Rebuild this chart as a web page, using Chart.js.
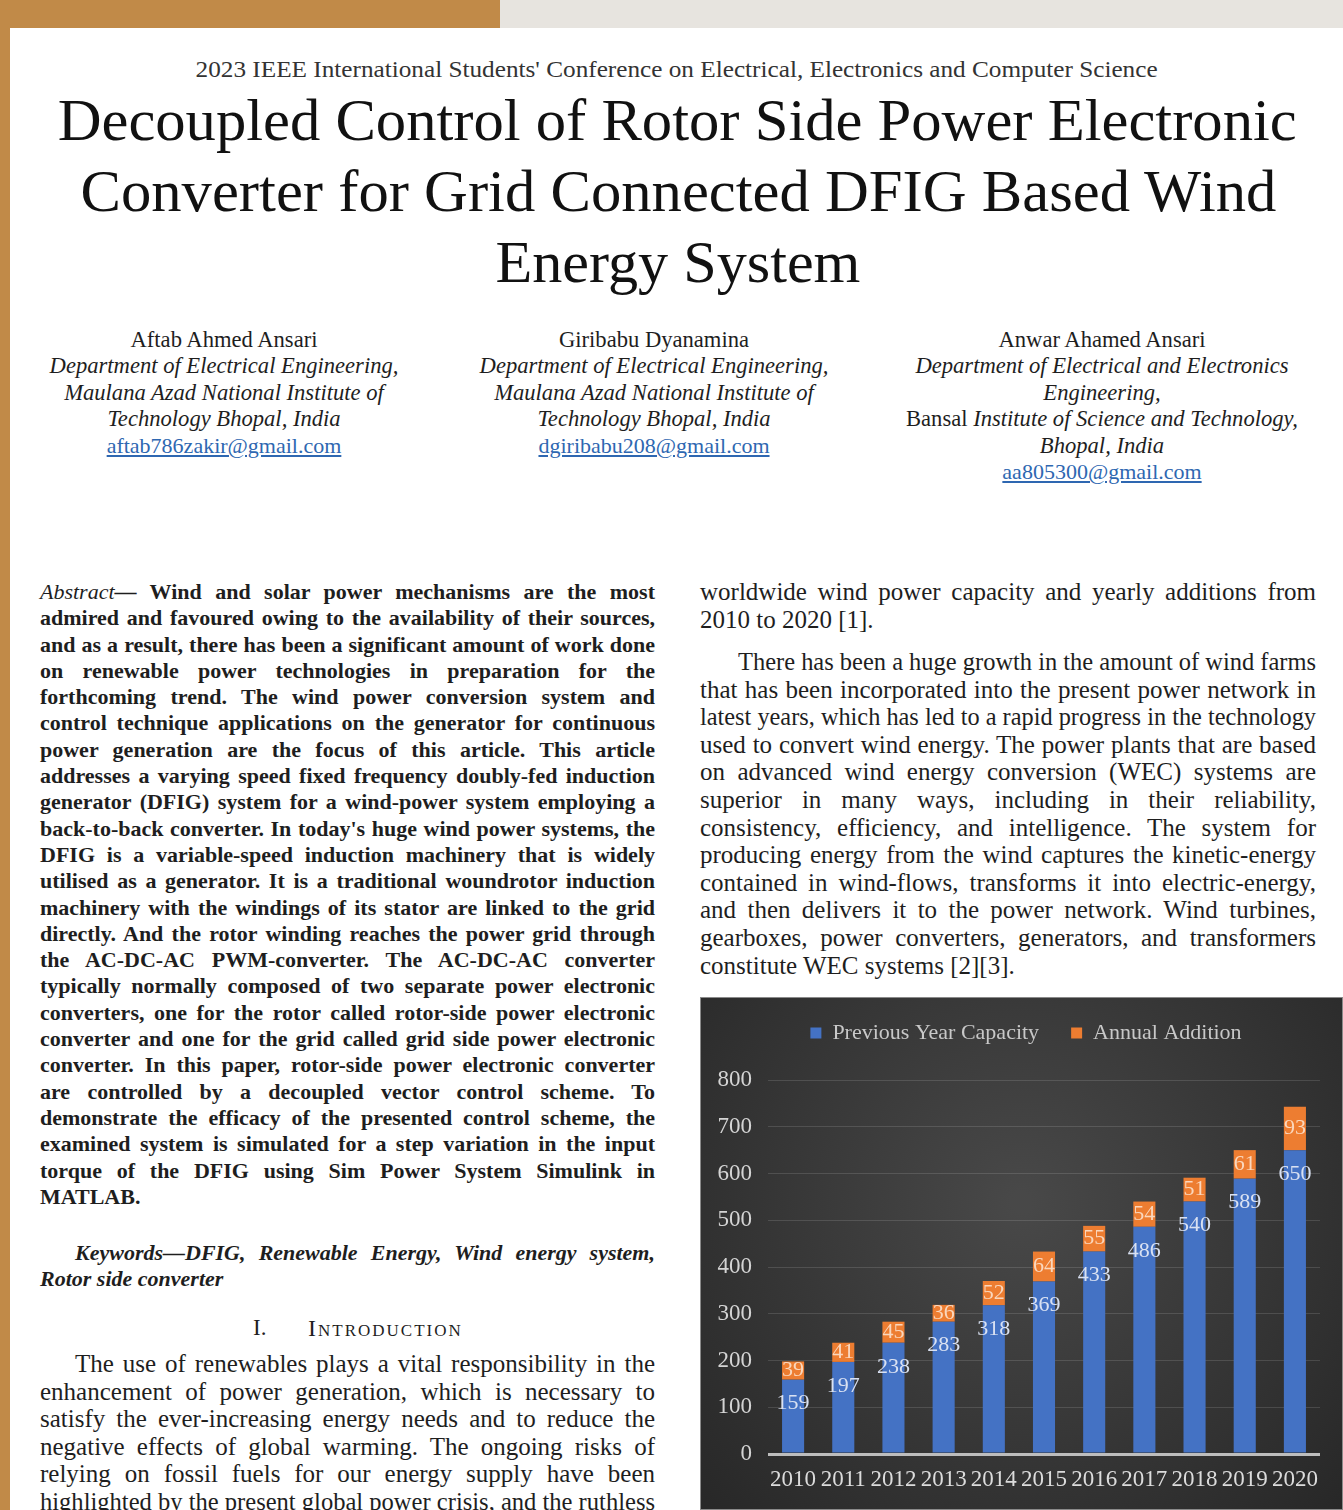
<!DOCTYPE html>
<html>
<head>
<meta charset="utf-8">
<title>Decoupled Control of Rotor Side Power Electronic Converter</title>
<script src="https://cdn.jsdelivr.net/npm/chart.js@4.4.0/dist/chart.umd.min.js"></script>
<style>
  html, body { margin: 0; padding: 0; }
  body {
    width: 1343px; height: 1510px; overflow: hidden; position: relative;
    background: #fff; font-family: "Liberation Serif", "Times New Roman", serif; color: #1e1e1e;
  }
  .strip-left { position: absolute; left: 0; top: 0; width: 10px; height: 1510px; background: #c18a48; }
  .strip-top1 { position: absolute; left: 0; top: 0; width: 500px; height: 28px; background: #c18a48; }
  .strip-top2 { position: absolute; left: 500px; top: 0; width: 843px; height: 28px; background: #e7e4df; }
  .ln { position: absolute; white-space: nowrap; }
  .j, .abs, .kw, .body25 { white-space: nowrap; }
  .c { text-align: center; }
  .conf { font-size: 23px; line-height: 30px; color: #333; }
  .title { font-size: 60px; line-height: 71px; color: #111; }
  .auth { font-size: 22.6px; line-height: 26.4px; }
  .mail { color: #2e67b1; text-decoration: underline; font-size: 22px; }
  .abs { font-size: 22px; line-height: 26.3px; font-weight: bold; }
  .kw { font-size: 22px; line-height: 26px; font-weight: bold; font-style: italic; }
  .body25 { font-size: 25px; line-height: 27.5px; }
  .rcol .body25 { line-height: 27.6px; }
  #chartBox { position: absolute; left: 700px; top: 997px; width: 643px; height: 513px; }
</style>
</head>
<body>
<div class="strip-left"></div>
<div class="strip-top1"></div>
<div class="strip-top2"></div>

<!-- header -->
<div class="ln c conf fit" data-w="962" style="left:0;width:1353px;top:55px"><span>2023 IEEE International Students' Conference on Electrical, Electronics and Computer Science</span></div>
<div class="ln c title fit" data-w="1239" style="left:0;width:1355px;top:85px"><span>Decoupled Control of Rotor Side Power Electronic</span></div>
<div class="ln c title fit" data-w="1196" style="left:0;width:1356px;top:156px"><span>Converter for Grid Connected DFIG Based Wind</span></div>
<div class="ln c title fit" data-w="365" style="left:0;width:1355px;top:227px"><span>Energy System</span></div>

<!-- authors -->
<div class="auth" style="position:absolute;left:4px;width:440px;top:327px;text-align:center">
  <div>Aftab Ahmed Ansari</div>
  <div><i>Department of Electrical Engineering,</i></div>
  <div><i>Maulana Azad National Institute of</i></div>
  <div><i>Technology Bhopal, India</i></div>
  <div class="mail">aftab786zakir@gmail.com</div>
</div>
<div class="auth" style="position:absolute;left:434px;width:440px;top:327px;text-align:center">
  <div>Giribabu Dyanamina</div>
  <div><i>Department of Electrical Engineering,</i></div>
  <div><i>Maulana Azad National Institute of</i></div>
  <div><i>Technology Bhopal, India</i></div>
  <div class="mail">dgiribabu208@gmail.com</div>
</div>
<div class="auth" style="position:absolute;left:872px;width:460px;top:327px;text-align:center">
  <div>Anwar Ahamed Ansari</div>
  <div><i>Department of Electrical and Electronics</i></div>
  <div><i>Engineering,</i></div>
  <div>Bansal <i>Institute of Science and Technology,</i></div>
  <div><i>Bhopal, India</i></div>
  <div class="mail">aa805300@gmail.com</div>
</div>

<!-- left column : abstract -->
<div style="position:absolute;left:40px;top:579px;width:615px">
  <div class="abs j"><span><i style="font-weight:normal">Abstract</i>— Wind and solar power mechanisms are the most</span></div>
  <div class="abs j"><span>admired and favoured owing to the availability of their sources,</span></div>
  <div class="abs j"><span>and as a result, there has been a significant amount of work done</span></div>
  <div class="abs j"><span>on renewable power technologies in preparation for the</span></div>
  <div class="abs j"><span>forthcoming trend. The wind power conversion system and</span></div>
  <div class="abs j"><span>control technique applications on the generator for continuous</span></div>
  <div class="abs j"><span>power generation are the focus of this article. This article</span></div>
  <div class="abs j"><span>addresses a varying speed fixed frequency doubly-fed induction</span></div>
  <div class="abs j"><span>generator (DFIG) system for a wind-power system employing a</span></div>
  <div class="abs j"><span>back-to-back converter. In today's huge wind power systems, the</span></div>
  <div class="abs j"><span>DFIG is a variable-speed induction machinery that is widely</span></div>
  <div class="abs j"><span>utilised as a generator. It is a traditional woundrotor induction</span></div>
  <div class="abs j"><span>machinery with the windings of its stator are linked to the grid</span></div>
  <div class="abs j"><span>directly. And the rotor winding reaches the power grid through</span></div>
  <div class="abs j"><span>the AC-DC-AC PWM-converter. The AC-DC-AC converter</span></div>
  <div class="abs j"><span>typically normally composed of two separate power electronic</span></div>
  <div class="abs j"><span>converters, one for the rotor called rotor-side power electronic</span></div>
  <div class="abs j"><span>converter and one for the grid called grid side power electronic</span></div>
  <div class="abs j"><span>converter. In this paper, rotor-side power electronic converter</span></div>
  <div class="abs j"><span>are controlled by a decoupled vector control scheme. To</span></div>
  <div class="abs j"><span>demonstrate the efficacy of the presented control scheme, the</span></div>
  <div class="abs j"><span>examined system is simulated for a step variation in the input</span></div>
  <div class="abs j"><span>torque of the DFIG using Sim Power System Simulink in</span></div>
  <div class="abs"><span>MATLAB.</span></div>
</div>

<div style="position:absolute;left:40px;top:1240px;width:615px">
  <div class="kw j" style="margin-left:35px"><span>Keywords—DFIG, Renewable Energy, Wind energy system,</span></div>
  <div class="kw"><span>Rotor side converter</span></div>
</div>

<div class="ln" style="left:253px;top:1315px;font-size:23px;line-height:26px">I.</div>
<div class="ln" style="left:308px;top:1315px;font-size:24px;line-height:26px;letter-spacing:2px;font-variant:small-caps">Introduction</div>

<div style="position:absolute;left:40px;top:1350px;width:615px">
  <div class="body25 j" style="margin-left:35px"><span>The use of renewables plays a vital responsibility in the</span></div>
  <div class="body25 j"><span>enhancement of power generation, which is necessary to</span></div>
  <div class="body25 j"><span>satisfy the ever-increasing energy needs and to reduce the</span></div>
  <div class="body25 j"><span>negative effects of global warming. The ongoing risks of</span></div>
  <div class="body25 j"><span>relying on fossil fuels for our energy supply have been</span></div>
  <div class="body25 j"><span>highlighted by the present global power crisis, and the ruthless</span></div>
</div>

<!-- right column -->
<div class="rcol" style="position:absolute;left:700px;top:578px;width:616px">
  <div class="body25 j"><span>worldwide wind power capacity and yearly additions from</span></div>
  <div class="body25"><span>2010 to 2020 [1].</span></div>
</div>
<div class="rcol" style="position:absolute;left:700px;top:648px;width:616px">
  <div class="body25 j" style="margin-left:38px"><span>There has been a huge growth in the amount of wind farms</span></div>
  <div class="body25 j"><span>that has been incorporated into the present power network in</span></div>
  <div class="body25 j"><span>latest years, which has led to a rapid progress in the technology</span></div>
  <div class="body25 j"><span>used to convert wind energy. The power plants that are based</span></div>
  <div class="body25 j"><span>on advanced wind energy conversion (WEC) systems are</span></div>
  <div class="body25 j"><span>superior in many ways, including in their reliability,</span></div>
  <div class="body25 j"><span>consistency, efficiency, and intelligence. The system for</span></div>
  <div class="body25 j"><span>producing energy from the wind captures the kinetic-energy</span></div>
  <div class="body25 j"><span>contained in wind-flows, transforms it into electric-energy,</span></div>
  <div class="body25 j"><span>and then delivers it to the power network. Wind turbines,</span></div>
  <div class="body25 j"><span>gearboxes, power converters, generators, and transformers</span></div>
  <div class="body25"><span>constitute WEC systems [2][3].</span></div>
</div>

<div id="chartBox"><canvas id="windChart"></canvas></div>

<script>
// ---------------- data ----------------
const years = ["2010", "2011", "2012", "2013", "2014", "2015", "2016", "2017", "2018", "2019", "2020"];
const previousYearCapacity = [159, 197, 238, 283, 318, 369, 433, 486, 540, 589, 650];
const annualAddition = [39, 41, 45, 36, 52, 64, 55, 54, 51, 61, 93];
const seriesNames = ["Previous Year Capacity", "Annual Addition"];
const yMin = 0;
const yMax = 800;
const yStep = 100;

// ---------------- text fitting ----------------
function fitText() {
  // centred lines squeezed / stretched to the measured width
  document.querySelectorAll(".fit").forEach((el) => {
    const span = el.firstElementChild;
    span.style.display = "inline-block";
    const nat = span.getBoundingClientRect().width;
    const target = parseFloat(el.dataset.w);
    span.style.transform = `scaleX(${target / nat})`;
    span.style.transformOrigin = "center";
  });

  // justified lines: spread words, or squeeze when too long
  document.querySelectorAll(".j, .abs, .kw, .body25").forEach((el) => {
    const span = el.firstElementChild;
    if (!span) return;
    const W = el.clientWidth;
    const nat = span.getBoundingClientRect().width;
    const spaces = (span.textContent.match(/ /g) || []).length;
    if (el.classList.contains("j") && nat < W && spaces > 0) {
      span.style.wordSpacing = (W - nat) / spaces + "px";
    } else if (nat > W) {
      span.style.display = "inline-block";
      span.style.transform = `scaleX(${W / nat})`;
      span.style.transformOrigin = "left";
    }
  });
}

// ---------------- chart ----------------
const chartBackground = {
  id: "chartBackground",
  beforeDraw(chart) {
    const { ctx, width, height } = chart;
    const g = ctx.createRadialGradient(width / 2, height * 0.4, 10, width / 2, height * 0.4, width * 0.78);
    g.addColorStop(0, "#484848");
    g.addColorStop(1, "#232323");
    ctx.save();
    ctx.fillStyle = g;
    ctx.fillRect(0, 0, width, height);
    ctx.strokeStyle = "#8a8a8a";
    ctx.lineWidth = 1;
    ctx.strokeRect(0.5, 0.5, width - 1, height - 1);
    ctx.restore();
  },
};

const barLabels = {
  id: "barLabels",
  afterDatasetsDraw(chart) {
    const { ctx } = chart;
    ctx.save();
    ctx.font = "22px 'Liberation Serif', serif";
    ctx.textAlign = "center";
    ctx.textBaseline = "middle";
    chart.data.datasets.forEach((ds, i) => {
      const meta = chart.getDatasetMeta(i);
      meta.data.forEach((bar, j) => {
        const v = ds.data[j];
        let y;
        if (i === 0) {
          y = bar.y + 24;
          ctx.fillStyle = "#d9e1f2";
        } else {
          y = (bar.y + bar.base) / 2;
          ctx.fillStyle = "#fad7bd";
        }
        ctx.fillText(v, bar.x, y);
      });
    });
    ctx.restore();
  },
};

// room below the legend, and nudge it a little right like the original
const legendSpace = {
  id: "legendSpace",
  beforeInit(chart) {
    const fit = chart.legend.fit;
    chart.legend.fit = function () {
      fit.bind(chart.legend)();
      this.height += 26;
    };
  },
  afterLayout(chart) {
    chart.legend.left += 32;
  },
};

function drawChart() {
  const ctx = document.getElementById("windChart");

  new Chart(ctx, {
    type: "bar",
    data: {
      labels: years,
      datasets: [
        {
          label: seriesNames[0],
          data: previousYearCapacity,
          backgroundColor: "#4472c4",
          barPercentage: 0.44,
          categoryPercentage: 1,
        },
        {
          label: seriesNames[1],
          data: annualAddition,
          backgroundColor: "#ed7d31",
          barPercentage: 0.44,
          categoryPercentage: 1,
        },
      ],
    },
    options: {
      responsive: true,
      maintainAspectRatio: false,
      animation: false,
      layout: { padding: { top: 15, right: 23, left: 0, bottom: 0 } },
      plugins: {
        legend: {
          position: "top",
          labels: {
            color: "#c8c8c8",
            boxWidth: 11,
            boxHeight: 11,
            padding: 10,
            font: { family: "'Liberation Serif', serif", size: 22 },
            generateLabels(chart) {
              const items = Chart.defaults.plugins.legend.labels.generateLabels(chart);
              // wider gap after the first entry
              items[0].text += "    ";
              return items;
            },
          },
        },
        tooltip: { enabled: false },
      },
      scales: {
        x: {
          stacked: true,
          grid: { display: false, drawTicks: false },
          border: { display: false },
          ticks: {
            color: "#dcdcdc",
            padding: 12,
            maxRotation: 0,
            autoSkip: false,
            font: { family: "'Liberation Serif', serif", size: 23 },
          },
          afterFit(scale) {
            scale.height = 56;
          },
        },
        y: {
          stacked: true,
          min: yMin,
          max: yMax,
          ticks: {
            stepSize: yStep,
            color: "#d4d4d4",
            padding: 16,
            font: { family: "'Liberation Serif', serif", size: 23 },
          },
          grid: {
            color: (c) => (c.tick && c.tick.value === 0 ? "#bdbdbd" : "rgba(255,255,255,0.13)"),
            lineWidth: (c) => (c.tick && c.tick.value === 0 ? 3 : 1),
            drawTicks: false,
          },
          border: { display: false },
          afterFit(scale) {
            scale.width = 68;
          },
        },
      },
    },
    plugins: [chartBackground, barLabels, legendSpace],
  });
}

fitText();
drawChart();
</script>
</body>
</html>
